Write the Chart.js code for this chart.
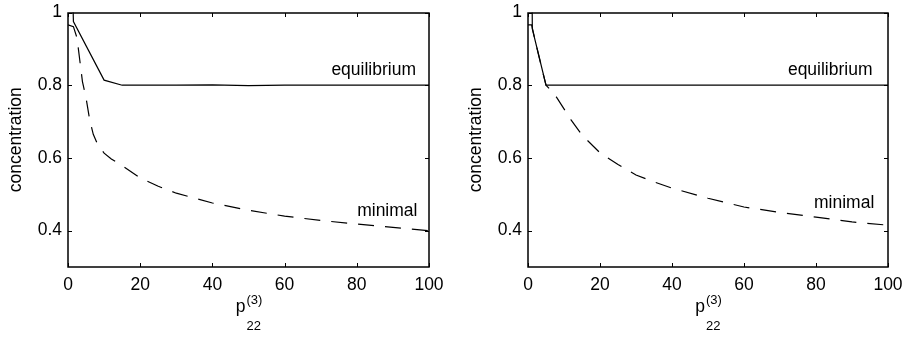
<!DOCTYPE html>
<html>
<head>
<meta charset="utf-8">
<script src="https://cdn.jsdelivr.net/npm/chart.js@4/dist/chart.umd.min.js"></script>
<style>
  html, body { margin: 0; padding: 0; background: #fff; overflow: hidden; }
  #wrap { position: relative; width: 908px; height: 337px; }
  .panel { position: absolute; top: 0; }
</style>
</head>
<body>
<div id="wrap">
  <div class="panel" style="left:0px"><canvas id="left" width="449" height="337"></canvas></div>
  <div class="panel" style="left:460px"><canvas id="right" width="448" height="337"></canvas></div>
</div>
<script>
// ---- data: left panel ----
const eqX1  = [1.3, 1.5, 10, 15, 20, 30, 40, 50, 60, 70, 80, 90, 100];
const eqY1  = [1.05, 0.975, 0.814, 0.800, 0.800, 0.800, 0.801, 0.799, 0.800, 0.800, 0.800, 0.800, 0.800];
const minX1 = [0, 1.5, 2.5, 4, 5, 6, 7, 8, 10, 12, 15, 20, 25, 30, 40, 50, 60, 70, 80, 90, 100];
const minY1 = [0.966, 0.961, 0.93, 0.81, 0.765, 0.705, 0.665, 0.642, 0.613, 0.597, 0.579, 0.545, 0.522, 0.503, 0.476, 0.456, 0.440, 0.428, 0.418, 0.409, 0.400];

// ---- data: right panel ----
const eqX2  = [1.1, 1.2, 5, 10, 20, 30, 40, 50, 60, 70, 80, 90, 100];
const eqY2  = [1.1, 0.955, 0.800, 0.800, 0.800, 0.800, 0.800, 0.800, 0.800, 0.800, 0.800, 0.800, 0.800];
const minX2 = [0, 1, 2, 3, 4, 5, 6, 8, 10, 12, 15, 20, 25, 30, 35, 40, 50, 60, 70, 80, 90, 100];
const minY2 = [0.966, 0.966, 0.922, 0.881, 0.840, 0.800, 0.790, 0.766, 0.735, 0.704, 0.663, 0.614, 0.582, 0.553, 0.534, 0.517, 0.489, 0.465, 0.450, 0.437, 0.424, 0.415];

// ---- axes ----
const xTickValues = [0, 20, 40, 60, 80, 100];
const xTickLabels = ['0', '20', '40', '60', '80', '100'];
const yTickValues = [0.4, 0.6, 0.8, 1];
const yTickLabels = ['0.4', '0.6', '0.8', '1'];
const yTitle = 'concentration';
const xTitleBase = 'p';
const xTitleSup = '(3)';
const xTitleSub = '22';
const curveNames = ['equilibrium', 'minimal'];

const FONT = '"Liberation Sans", Arial, Helvetica, sans-serif';
const FS = 17.5;

function pts(xs, ys) { return xs.map((v, i) => ({ x: v, y: ys[i] })); }

// frame, inward ticks, curve names and the subscripted x label
function decor(namePos) {
  return {
    id: 'decor',
    afterDatasetsDraw(chart) {
      const { ctx, chartArea: a, scales: { x, y } } = chart;
      ctx.save();
      ctx.strokeStyle = '#000';
      ctx.lineWidth = 1.5;
      const L = Math.round(a.left), R = Math.round(a.right), T = Math.round(a.top), B = Math.round(a.bottom);
      ctx.strokeRect(L, T, R - L, B - T);
      const tl = 4;
      ctx.lineWidth = 1;
      ctx.beginPath();
      xTickValues.forEach(v => {
        const px = Math.round(x.getPixelForValue(v)) + 0.5;
        ctx.moveTo(px, B); ctx.lineTo(px, B - tl);
        ctx.moveTo(px, T); ctx.lineTo(px, T + tl);
      });
      yTickValues.forEach(v => {
        const py = Math.round(y.getPixelForValue(v)) + 0.5;
        ctx.moveTo(L, py); ctx.lineTo(L + tl, py);
        ctx.moveTo(R, py); ctx.lineTo(R - tl, py);
      });
      ctx.stroke();

      ctx.fillStyle = '#000';
      ctx.font = FS + 'px ' + FONT;
      ctx.textAlign = 'right';
      ctx.textBaseline = 'alphabetic';
      curveNames.forEach((name, i) => {
        const p = namePos[i];
        ctx.fillText(name, x.getPixelForValue(p[0]), y.getPixelForValue(p[1]));
      });

      const cx = (a.left + a.right) / 2;
      ctx.textAlign = 'right';
      ctx.font = FS + 'px ' + FONT;
      ctx.fillText(xTitleBase, cx - 3, a.bottom + 44.5);
      ctx.textAlign = 'left';
      ctx.font = '13px ' + FONT;
      ctx.fillText(xTitleSup, cx - 2, a.bottom + 36.5);
      ctx.fillText(xTitleSub, cx - 2, a.bottom + 63);
      ctx.restore();
    }
  };
}

function makePanel(id, eqX, eqY, minX, minY, namePos) {
  return new Chart(document.getElementById(id), {
    type: 'line',
    data: {
      datasets: [
        { label: curveNames[0], data: pts(eqX, eqY), borderColor: '#000', borderWidth: 1.2,
          pointRadius: 0, tension: 0, fill: false },
        { label: curveNames[1], data: pts(minX, minY), borderColor: '#000', borderWidth: 1.2,
          borderDash: [16, 11], pointRadius: 0, tension: 0, fill: false }
      ]
    },
    options: {
      responsive: false,
      animation: false,
      devicePixelRatio: 1,
      layout: { padding: { top: 12.5, right: 20, bottom: 0, left: 0 } },
      plugins: { legend: { display: false }, tooltip: { enabled: false } },
      scales: {
        x: {
          type: 'linear', min: 0, max: 100,
          grid: { display: false, drawTicks: false },
          border: { display: false },
          afterBuildTicks: s => { s.ticks = xTickValues.map(v => ({ value: v })); },
          afterFit: s => { s.height = 70; s.paddingLeft = 0; s.paddingRight = 0; },
          ticks: {
            color: '#000', font: { family: FONT, size: FS }, padding: 8, maxRotation: 0,
            callback: (v) => xTickLabels[xTickValues.indexOf(v)]
          }
        },
        y: {
          type: 'linear', min: 0.3, max: 1,
          grid: { display: false, drawTicks: false },
          border: { display: false },
          afterBuildTicks: s => { s.ticks = yTickValues.map(v => ({ value: v })); },
          afterFit: s => { s.width = 68; s.paddingTop = 0; s.paddingBottom = 0; },
          ticks: {
            color: '#000', font: { family: FONT, size: FS }, padding: 6,
            callback: (v) => yTickLabels[yTickValues.indexOf(v)]
          },
          title: { display: true, text: yTitle, color: '#000',
                   font: { family: FONT, size: FS }, padding: { top: 6, bottom: 0 } }
        }
      }
    },
    plugins: [decor(namePos)]
  });
}

makePanel('left',  eqX1, eqY1, minX1, minY1, [[96.4, 0.829], [96.8, 0.4395]]);
makePanel('right', eqX2, eqY2, minX2, minY2, [[95.7, 0.829], [96.2, 0.4626]]);
</script>
</body>
</html>
